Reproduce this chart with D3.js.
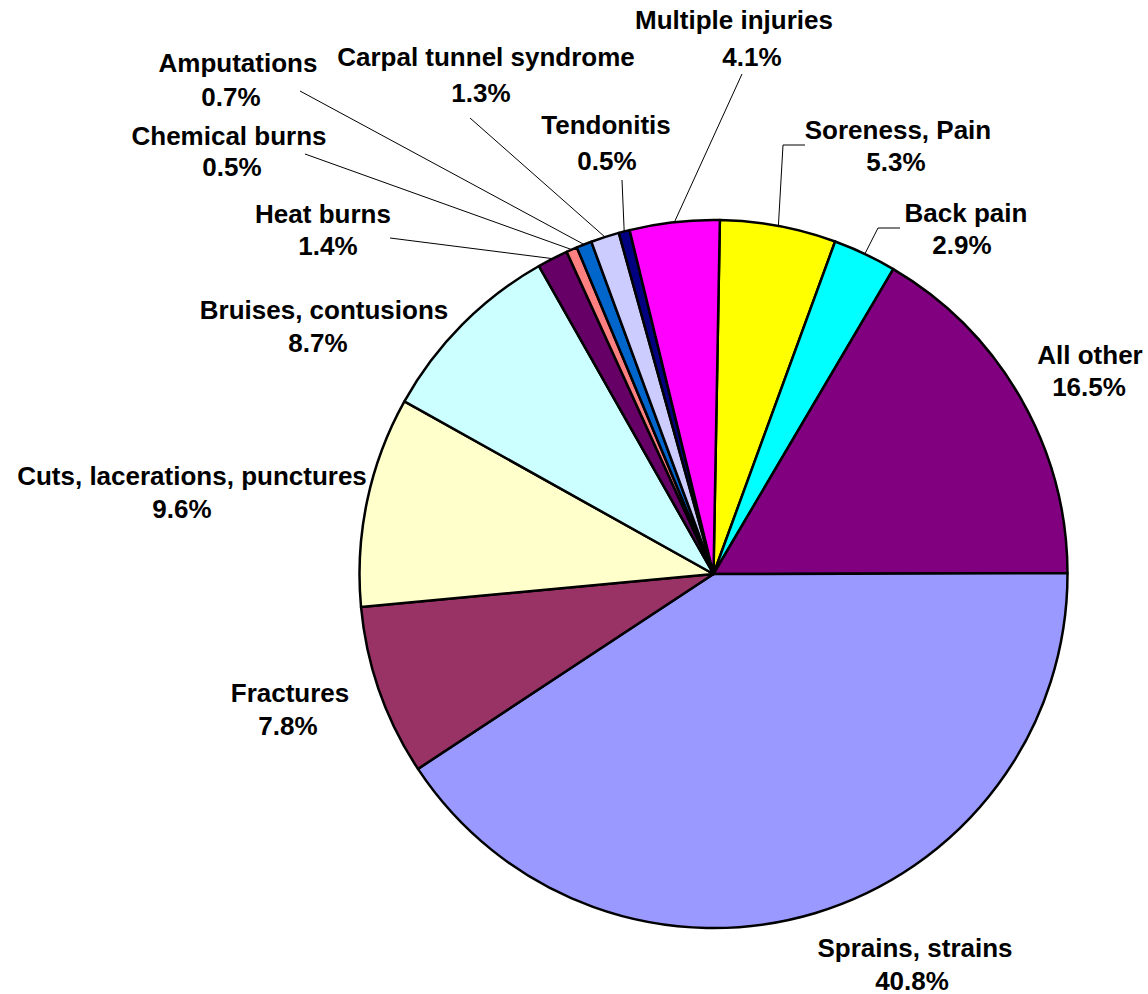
<!DOCTYPE html>
<html>
<head>
<meta charset="utf-8">
<script src="https://cdn.jsdelivr.net/npm/d3@7"></script>
<style>
  body { margin: 0; background: #fff; }
  svg text { font-family: "Liberation Sans", Arial, sans-serif; font-weight: bold; font-size: 26px; fill: #000; }
</style>
</head>
<body>
<div id="chart"></div>
<script>
"use strict";

// chart data (clockwise from 12 o'clock)
var categories = ["Soreness, Pain", "Back pain", "All other", "Sprains, strains", "Fractures",
  "Cuts, lacerations, punctures", "Bruises, contusions", "Heat burns", "Chemical burns",
  "Amputations", "Carpal tunnel syndrome", "Tendonitis", "Multiple injuries"];
var values = [5.3, 2.9, 16.5, 40.8, 7.8, 9.6, 8.7, 1.4, 0.5, 0.7, 1.3, 0.5, 4.1];
var colors = ["#FFFF00", "#00FFFF", "#800080", "#9999FF", "#993366", "#FFFFCC", "#CCFFFF",
  "#660066", "#FF8080", "#0066CC", "#CCCCFF", "#000080", "#FF00FF"];

// label layout: name centre, percent centre, leader start and optional elbow
var labelLayout = [
  { name: [898, 130], pct: [896, 162], from: [805, 145], elbow: [783, 145] },
  { name: [966, 213], pct: [962, 245], from: [900, 228], elbow: [878, 228] },
  { name: [1090, 355], pct: [1089, 387] },
  { name: [915, 948], pct: [912, 981] },
  { name: [290, 693], pct: [288, 726] },
  { name: [192, 476], pct: [182, 509] },
  { name: [324, 310], pct: [318, 343] },
  { name: [323, 214], pct: [328, 246], from: [390, 238] },
  { name: [229, 136], pct: [232, 167], from: [305, 154] },
  { name: [238, 63], pct: [231, 97], from: [300, 91] },
  { name: [486, 57], pct: [481, 93], from: [470, 118] },
  { name: [606, 125], pct: [607, 161], from: [622, 180] },
  { name: [734, 20], pct: [752, 57], from: [742, 74] }
];

var width = 1148;
var height = 994;
var cx = 713.5;
var cy = 574;
var radius = 354;
var angleOffset = 0.018;

var svg = d3.select("#chart").append("svg")
  .attr("width", width)
  .attr("height", height);

var pie = d3.pie()
  .sort(null)
  .value(function (d) { return d; })
  .startAngle(angleOffset)
  .endAngle(2 * Math.PI + angleOffset);

var arcs = pie(values);

var arc = d3.arc()
  .innerRadius(0)
  .outerRadius(radius);

// draw slices
var pieG = svg.append("g").attr("transform", "translate(" + cx + "," + cy + ")");
pieG.selectAll("path").data(arcs).enter().append("path")
  .attr("d", arc)
  .style("fill", function (d, i) { return colors[i]; })
  .style("stroke", "#000")
  .style("stroke-width", 2.5)
  .style("stroke-linejoin", "round");

// leader lines from label to the slice edge at its mid angle
var leaders = arcs.map(function (d, i) {
  return { arc: d, lay: labelLayout[i] };
}).filter(function (l) { return l.lay.from; });

svg.append("g").selectAll("polyline").data(leaders).enter().append("polyline")
  .attr("points", function (l) {
    var mid = (l.arc.startAngle + l.arc.endAngle) / 2;
    var end = [cx + radius * Math.sin(mid), cy - radius * Math.cos(mid)];
    var pts = [l.lay.from];
    if (l.lay.elbow) pts.push(l.lay.elbow);
    pts.push(end);
    return pts.map(function (p) { return p.join(","); }).join(" ");
  })
  .style("fill", "none")
  .style("stroke", "#000")
  .style("stroke-width", 1);

// labels: category name and percentage
var labels = svg.append("g").selectAll("g").data(arcs).enter().append("g");
labels.append("text")
  .attr("x", function (d, i) { return labelLayout[i].name[0]; })
  .attr("y", function (d, i) { return labelLayout[i].name[1]; })
  .attr("text-anchor", "middle")
  .attr("dominant-baseline", "central")
  .text(function (d, i) { return categories[i]; });
labels.append("text")
  .attr("x", function (d, i) { return labelLayout[i].pct[0]; })
  .attr("y", function (d, i) { return labelLayout[i].pct[1]; })
  .attr("text-anchor", "middle")
  .attr("dominant-baseline", "central")
  .text(function (d, i) { return d3.format(".1f")(values[i]) + "%"; });
</script>
</body>
</html>
